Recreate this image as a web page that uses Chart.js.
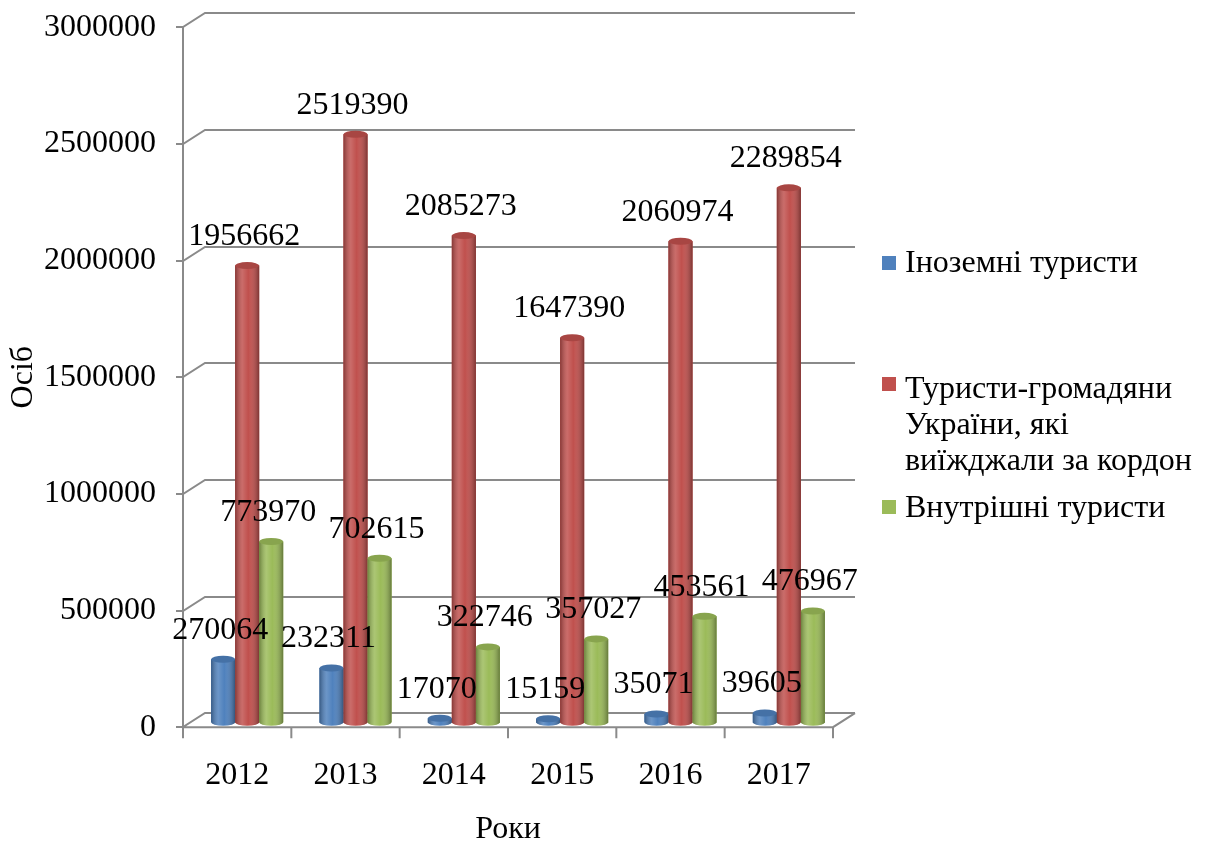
<!DOCTYPE html>
<html>
<head>
<meta charset="utf-8">
<script src="https://cdn.jsdelivr.net/npm/chart.js@4.4.0/dist/chart.umd.min.js"></script>
<style>
  body { margin: 0; background: #fff; }
  #wrap { position: relative; width: 1206px; height: 844px; }
  .leg { position: absolute; left: 905px; font: 32px 'Liberation Serif', 'Times New Roman', serif; line-height: 36px; color: #000; white-space: pre; }
  .mk { position: absolute; left: 882px; width: 14px; height: 14px; }
</style>
</head>
<body>
<div id="wrap">
  <canvas id="tourChart" width="1206" height="844"></canvas>
</div>
<script>
const years = ['2012', '2013', '2014', '2015', '2016', '2017'];
const foreignTourists = [270064, 232311, 17070, 15159, 35071, 39605];
const outboundTourists = [1956662, 2519390, 2085273, 1647390, 2060974, 2289854];
const domesticTourists = [773970, 702615, 322746, 357027, 453561, 476967];
const seriesNames = ['Іноземні туристи', 'Туристи-громадяни\nУкраїни, які\nвиїжджали за кордон', 'Внутрішні туристи'];
const seriesColors = ['#4F81BD', '#C0504D', '#9BBB59'];
const yTicks = [0, 500000, 1000000, 1500000, 2000000, 2500000, 3000000];

const serif = "'Liberation Serif', 'Times New Roman', serif";
const gridColor = '#8a8a8a';
// bars stand half way into the depth, the grid sits on the back wall
const DX = 10, DY = -5;
const WALL_X = 22, WALL_Y = 14;

// legend (html, right side)
const legTops = [243, 369, 488];
const mkTops = [256, 377, 500];
const wrap = document.getElementById('wrap');
seriesNames.forEach((name, i) => {
  const mk = document.createElement('div');
  mk.className = 'mk';
  mk.style.top = mkTops[i] + 'px';
  mk.style.background = seriesColors[i];
  wrap.appendChild(mk);
  const t = document.createElement('div');
  t.className = 'leg';
  t.style.top = legTops[i] + 'px';
  t.textContent = name;
  wrap.appendChild(t);
});

function cylinder(ctx, bar, color) {
  const { x, y, base, width } = bar.getProps(['x', 'y', 'base', 'width'], true);
  const l = x - width / 2, r = x + width / 2, ry = 3.5;
  const shade = ctx.createLinearGradient(l, 0, r, 0);
  shade.addColorStop(0, 'rgba(0,0,0,0.30)');
  shade.addColorStop(0.3, 'rgba(255,255,255,0.16)');
  shade.addColorStop(0.55, 'rgba(255,255,255,0)');
  shade.addColorStop(1, 'rgba(0,0,0,0.35)');

  ctx.beginPath();
  ctx.moveTo(l, y);
  ctx.lineTo(l, base);
  ctx.ellipse(x, base, width / 2, ry, 0, Math.PI, 0, true);
  ctx.lineTo(r, y);
  ctx.closePath();
  ctx.fillStyle = color;
  ctx.fill();
  ctx.fillStyle = shade;
  ctx.fill();

  ctx.beginPath();
  ctx.ellipse(x, y, width / 2, ry, 0, 0, Math.PI * 2);
  ctx.fillStyle = color;
  ctx.fill();
  ctx.fillStyle = 'rgba(0,0,0,0.12)';
  ctx.fill();
}

const wallPlugin = {
  id: 'wall',
  beforeDatasetsDraw(chart) {
    const { ctx, chartArea: a, scales: { y } } = chart;
    ctx.save();
    ctx.strokeStyle = gridColor;
    ctx.lineWidth = 2;
    ctx.beginPath();
    yTicks.forEach(v => {
      const py = Math.round(y.getPixelForValue(v));
      ctx.moveTo(a.left - 7, py);
      ctx.lineTo(a.left, py);
      ctx.lineTo(a.left + WALL_X, py - WALL_Y);
      ctx.lineTo(a.right + WALL_X, py - WALL_Y);
    });
    ctx.moveTo(a.left, a.top);
    ctx.lineTo(a.left, a.bottom + 11);
    ctx.moveTo(a.left, a.bottom);
    ctx.lineTo(a.right, a.bottom);
    ctx.lineTo(a.right + WALL_X, a.bottom - WALL_Y);
    for (let i = 1; i <= years.length; i++) {
      const px = a.left + (a.right - a.left) * i / years.length;
      ctx.moveTo(px, a.bottom);
      ctx.lineTo(px, a.bottom + 11);
    }
    ctx.stroke();
    ctx.restore();

    ctx.save();
    ctx.translate(DX, DY);
  },
  afterDatasetsDraw(chart) {
    const ctx = chart.ctx;
    chart.data.datasets.forEach((ds, i) => {
      chart.getDatasetMeta(i).data.forEach(bar => cylinder(ctx, bar, ds.backgroundColor));
    });
    ctx.fillStyle = '#000';
    ctx.font = '32px ' + serif;
    ctx.textAlign = 'center';
    ctx.textBaseline = 'middle';
    chart.data.datasets.forEach((ds, i) => {
      chart.getDatasetMeta(i).data.forEach((bar, j) => {
        ctx.fillText(String(ds.data[j]), bar.x - 3, bar.y - 29);
      });
    });
    ctx.restore();
  }
};

Chart.defaults.font.family = serif;
Chart.defaults.color = '#000';

new Chart(document.getElementById('tourChart'), {
  type: 'bar',
  data: {
    labels: years,
    datasets: [
      { label: seriesNames[0], data: foreignTourists, backgroundColor: seriesColors[0] },
      { label: seriesNames[1], data: outboundTourists, backgroundColor: seriesColors[1] },
      { label: seriesNames[2], data: domesticTourists, backgroundColor: seriesColors[2] }
    ]
  },
  options: {
    responsive: false,
    animation: false,
    categoryPercentage: 0.665,
    barPercentage: 1,
    layout: { padding: { top: 27, right: 373, bottom: 0, left: 0 } },
    plugins: { legend: { display: false }, tooltip: { enabled: false } },
    datasets: { bar: { clip: false, borderWidth: 0 } },
    scales: {
      x: {
        grid: { display: false, drawTicks: false, tickLength: 0 },
        border: { display: false },
        ticks: { font: { size: 32 }, padding: 29 },
        title: { display: true, text: 'Роки', font: { size: 32, lineHeight: 0.4 }, padding: { top: 0, bottom: 7.6 } }
      },
      y: {
        min: 0,
        max: 3000000,
        grid: { display: false, drawTicks: false, tickLength: 0 },
        border: { display: false },
        // tiny line height keeps the top label from pushing the plot down
        ticks: { stepSize: 500000, font: { size: 32, lineHeight: 0.01 }, padding: 27, callback: v => String(v) },
        title: { display: true, text: 'Осіб', font: { size: 32, lineHeight: 1.2 }, padding: { top: 4.8, bottom: -26.2 } }
      }
    }
  },
  plugins: [wallPlugin]
});
</script>
</body>
</html>
